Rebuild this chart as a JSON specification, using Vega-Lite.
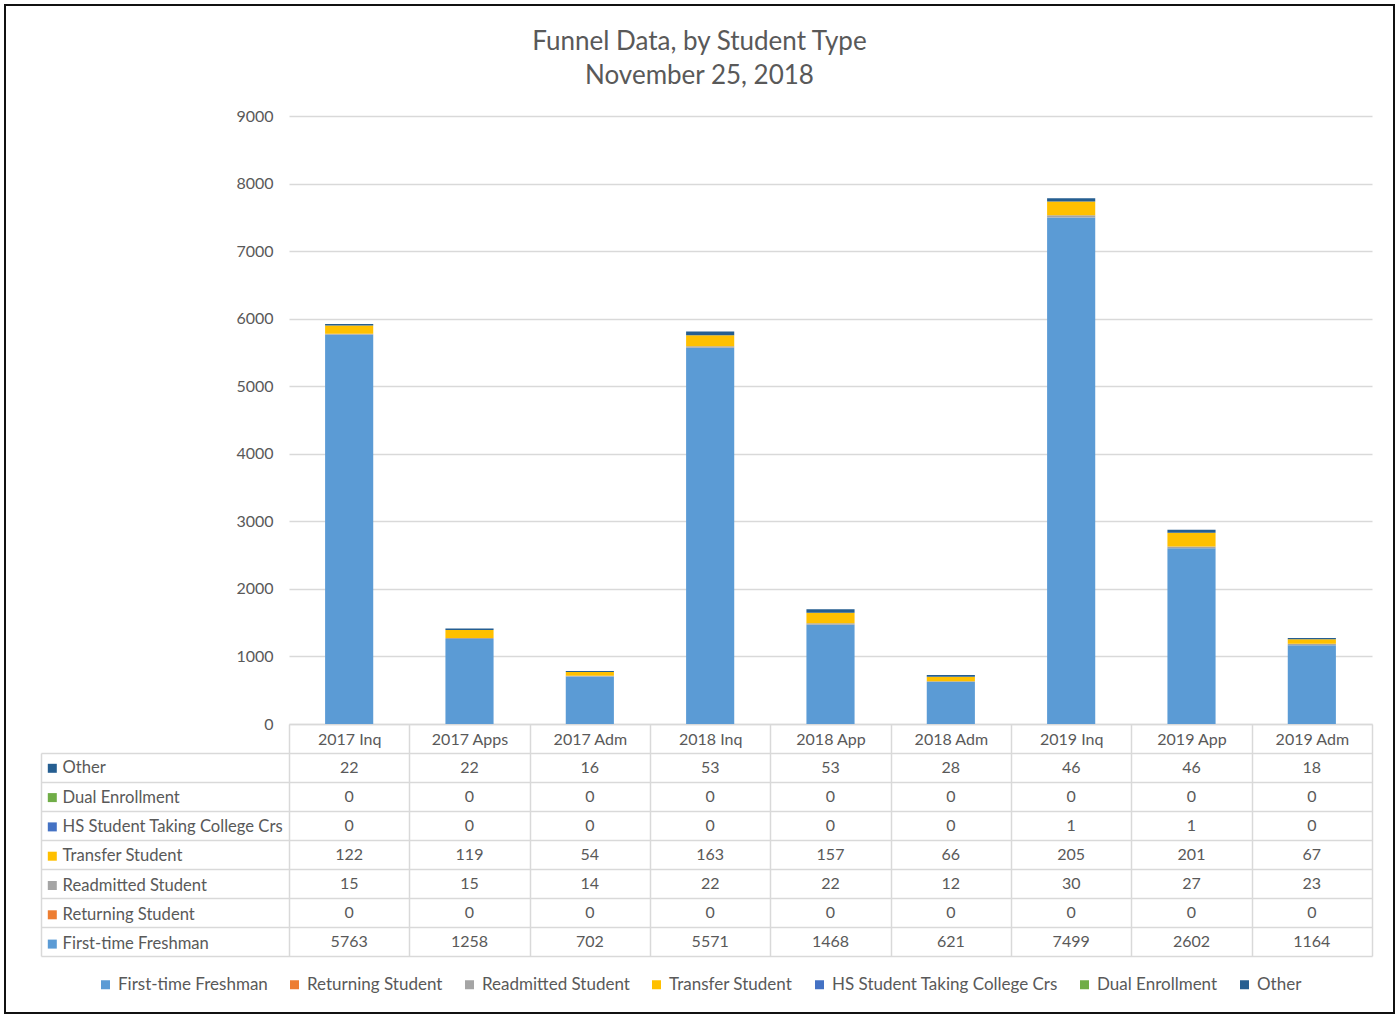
{
  "$schema": "https://vega.github.io/schema/vega-lite/v6.json",
  "autosize": {"type": "none"},
  "width": 1389,
  "height": 1008,
  "padding": {"left": 5, "top": 5, "right": 5, "bottom": 2},
  "background": "#ffffff",
  "config": {
    "view": {"stroke": "#111111", "strokeWidth": 2},
    "font": "Lato",
    "axis": {"labelFont": "Lato", "labelColor": "#595959", "labelFontSize": 16},
    "legend": {"labelFont": "Lato", "labelColor": "#595959", "labelFontSize": 17, "labelLimit": 320},
    "text": {"font": "Lato"}
  },
  "title": {
    "text": ["Funnel Data, by Student Type", "November 25, 2018"],
    "font": "Lato",
    "fontSize": 26,
    "fontWeight": "normal",
    "color": "#595959",
    "anchor": "middle",
    "lineHeight": 34,
    "offset": -84
  },
  "datasets": {
    "funnel": [
      {"category": "2017 Inq", "series": "First-time Freshman", "value": 5763},
      {"category": "2017 Apps", "series": "First-time Freshman", "value": 1258},
      {"category": "2017 Adm", "series": "First-time Freshman", "value": 702},
      {"category": "2018 Inq", "series": "First-time Freshman", "value": 5571},
      {"category": "2018 App", "series": "First-time Freshman", "value": 1468},
      {"category": "2018 Adm", "series": "First-time Freshman", "value": 621},
      {"category": "2019 Inq", "series": "First-time Freshman", "value": 7499},
      {"category": "2019 App", "series": "First-time Freshman", "value": 2602},
      {"category": "2019 Adm", "series": "First-time Freshman", "value": 1164},
      {"category": "2017 Inq", "series": "Returning Student", "value": 0},
      {"category": "2017 Apps", "series": "Returning Student", "value": 0},
      {"category": "2017 Adm", "series": "Returning Student", "value": 0},
      {"category": "2018 Inq", "series": "Returning Student", "value": 0},
      {"category": "2018 App", "series": "Returning Student", "value": 0},
      {"category": "2018 Adm", "series": "Returning Student", "value": 0},
      {"category": "2019 Inq", "series": "Returning Student", "value": 0},
      {"category": "2019 App", "series": "Returning Student", "value": 0},
      {"category": "2019 Adm", "series": "Returning Student", "value": 0},
      {"category": "2017 Inq", "series": "Readmitted Student", "value": 15},
      {"category": "2017 Apps", "series": "Readmitted Student", "value": 15},
      {"category": "2017 Adm", "series": "Readmitted Student", "value": 14},
      {"category": "2018 Inq", "series": "Readmitted Student", "value": 22},
      {"category": "2018 App", "series": "Readmitted Student", "value": 22},
      {"category": "2018 Adm", "series": "Readmitted Student", "value": 12},
      {"category": "2019 Inq", "series": "Readmitted Student", "value": 30},
      {"category": "2019 App", "series": "Readmitted Student", "value": 27},
      {"category": "2019 Adm", "series": "Readmitted Student", "value": 23},
      {"category": "2017 Inq", "series": "Transfer Student", "value": 122},
      {"category": "2017 Apps", "series": "Transfer Student", "value": 119},
      {"category": "2017 Adm", "series": "Transfer Student", "value": 54},
      {"category": "2018 Inq", "series": "Transfer Student", "value": 163},
      {"category": "2018 App", "series": "Transfer Student", "value": 157},
      {"category": "2018 Adm", "series": "Transfer Student", "value": 66},
      {"category": "2019 Inq", "series": "Transfer Student", "value": 205},
      {"category": "2019 App", "series": "Transfer Student", "value": 201},
      {"category": "2019 Adm", "series": "Transfer Student", "value": 67},
      {"category": "2017 Inq", "series": "HS Student Taking College Crs", "value": 0},
      {"category": "2017 Apps", "series": "HS Student Taking College Crs", "value": 0},
      {"category": "2017 Adm", "series": "HS Student Taking College Crs", "value": 0},
      {"category": "2018 Inq", "series": "HS Student Taking College Crs", "value": 0},
      {"category": "2018 App", "series": "HS Student Taking College Crs", "value": 0},
      {"category": "2018 Adm", "series": "HS Student Taking College Crs", "value": 0},
      {"category": "2019 Inq", "series": "HS Student Taking College Crs", "value": 1},
      {"category": "2019 App", "series": "HS Student Taking College Crs", "value": 1},
      {"category": "2019 Adm", "series": "HS Student Taking College Crs", "value": 0},
      {"category": "2017 Inq", "series": "Dual Enrollment", "value": 0},
      {"category": "2017 Apps", "series": "Dual Enrollment", "value": 0},
      {"category": "2017 Adm", "series": "Dual Enrollment", "value": 0},
      {"category": "2018 Inq", "series": "Dual Enrollment", "value": 0},
      {"category": "2018 App", "series": "Dual Enrollment", "value": 0},
      {"category": "2018 Adm", "series": "Dual Enrollment", "value": 0},
      {"category": "2019 Inq", "series": "Dual Enrollment", "value": 0},
      {"category": "2019 App", "series": "Dual Enrollment", "value": 0},
      {"category": "2019 Adm", "series": "Dual Enrollment", "value": 0},
      {"category": "2017 Inq", "series": "Other", "value": 22},
      {"category": "2017 Apps", "series": "Other", "value": 22},
      {"category": "2017 Adm", "series": "Other", "value": 16},
      {"category": "2018 Inq", "series": "Other", "value": 53},
      {"category": "2018 App", "series": "Other", "value": 53},
      {"category": "2018 Adm", "series": "Other", "value": 28},
      {"category": "2019 Inq", "series": "Other", "value": 46},
      {"category": "2019 App", "series": "Other", "value": 46},
      {"category": "2019 Adm", "series": "Other", "value": 18}
    ]
  },
  "layer": [
    {
      "data": {"name": "funnel"},
      "transform": [
        {"calculate": "indexof(['First-time Freshman', 'Returning Student', 'Readmitted Student', 'Transfer Student', 'HS Student Taking College Crs', 'Dual Enrollment', 'Other'], datum.series)", "as": "stackRank"}
      ],
      "mark": {"type": "bar", "width": {"band": 0.4}},
      "encoding": {
        "x": {
          "field": "category",
          "type": "nominal",
          "sort": ["2017 Inq", "2017 Apps", "2017 Adm", "2018 Inq", "2018 App", "2018 Adm", "2019 Inq", "2019 App", "2019 Adm"],
          "scale": {"range": [284, 1367], "paddingInner": 0, "paddingOuter": 0},
          "axis": {
            "orient": "bottom",
            "offset": -289,
            "title": null,
            "grid": false,
            "domain": true,
            "domainColor": "#d9d9d9",
            "domainWidth": 1.5,
            "ticks": true,
            "tickBand": "extent",
            "tickSize": 232,
            "tickColor": "#d9d9d9",
            "tickWidth": 1.5,
            "labelAngle": 0,
            "labelBaseline": "top",
            "labelPadding": -225
          }
        },
        "y": {
          "field": "value",
          "type": "quantitative",
          "stack": "zero",
          "scale": {"domain": [0, 9000], "range": [719, 111], "nice": false},
          "axis": {
            "orient": "left",
            "offset": -284,
            "title": null,
            "grid": false,
            "domain": false,
            "values": [0, 1000, 2000, 3000, 4000, 5000, 6000, 7000, 8000, 9000],
            "format": "d",
            "ticks": true,
            "tickSize": -1083,
            "tickColor": "#d9d9d9",
            "tickWidth": 1.5,
            "labelPadding": 1099
          }
        },
        "order": {"field": "stackRank", "type": "quantitative", "sort": "ascending"},
        "color": {
          "field": "series",
          "type": "nominal",
          "scale": {
            "domain": ["First-time Freshman", "Returning Student", "Readmitted Student", "Transfer Student", "HS Student Taking College Crs", "Dual Enrollment", "Other"],
            "range": ["#5b9bd5", "#ed7d31", "#a5a5a5", "#ffc000", "#4472c4", "#70ad47", "#255e91"]
          },
          "legend": {
            "orient": "none",
            "legendX": 92,
            "legendY": 971,
            "direction": "horizontal",
            "title": null,
            "symbolType": "square",
            "symbolSize": 81,
            "symbolStrokeWidth": 0,
            "labelOffset": 4,
            "columnPadding": 18
          }
        }
      }
    },
    {
      "data": {"name": "funnel"},
      "encoding": {
        "x": {
          "field": "category",
          "type": "nominal",
          "sort": ["2017 Inq", "2017 Apps", "2017 Adm", "2018 Inq", "2018 App", "2018 Adm", "2019 Inq", "2019 App", "2019 Adm"],
          "scale": {"range": [284, 1367], "paddingInner": 0, "paddingOuter": 0},
          "axis": {
            "orient": "bottom",
            "offset": -289,
            "title": null,
            "grid": false,
            "domain": true,
            "domainColor": "#d9d9d9",
            "domainWidth": 1.5,
            "ticks": true,
            "tickBand": "extent",
            "tickSize": 232,
            "tickColor": "#d9d9d9",
            "tickWidth": 1.5,
            "labelAngle": 0,
            "labelBaseline": "top",
            "labelPadding": -225
          }
        },
        "y": {
          "field": "series",
          "type": "nominal",
          "sort": ["Other", "Dual Enrollment", "HS Student Taking College Crs", "Transfer Student", "Readmitted Student", "Returning Student", "First-time Freshman"],
          "scale": {"range": [748, 951], "paddingInner": 0, "paddingOuter": 0},
          "axis": {
            "orient": "left",
            "offset": -36,
            "title": null,
            "grid": false,
            "labels": false,
            "domain": true,
            "domainColor": "#d9d9d9",
            "domainWidth": 1.5,
            "ticks": true,
            "tickBand": "extent",
            "tickSize": -1331,
            "tickColor": "#d9d9d9",
            "tickWidth": 1.5
          }
        }
      },
      "layer": [
        {
          "mark": {"type": "rect", "opacity": 0},
          "encoding": {
            "fill": {
              "field": "series",
              "type": "nominal",
              "scale": {
                "domain": ["Other", "Dual Enrollment", "HS Student Taking College Crs", "Transfer Student", "Readmitted Student", "Returning Student", "First-time Freshman"],
                "range": ["#255e91", "#70ad47", "#4472c4", "#ffc000", "#a5a5a5", "#ed7d31", "#5b9bd5"]
              },
              "legend": {
                "orient": "none",
                "legendX": 39,
                "legendY": 755,
                "direction": "vertical",
                "title": null,
                "symbolType": "square",
                "symbolSize": 81,
                "symbolStrokeWidth": 0,
                "symbolOpacity": 1,
                "labelFontSize": 16.6,
                "labelOffset": 2,
                "rowPadding": 12.3,
                "encode": {"symbols": {"update": {"opacity": {"value": 1}}}}
              }
            }
          }
        },
        {
          "mark": {"type": "text", "fontSize": 16, "color": "#595959", "baseline": "middle", "align": "center"},
          "encoding": {
            "text": {"field": "value", "type": "quantitative", "format": "d"}
          }
        }
      ]
    }
  ],
  "resolve": {"scale": {"y": "independent"}, "axis": {"y": "independent"}}
}
